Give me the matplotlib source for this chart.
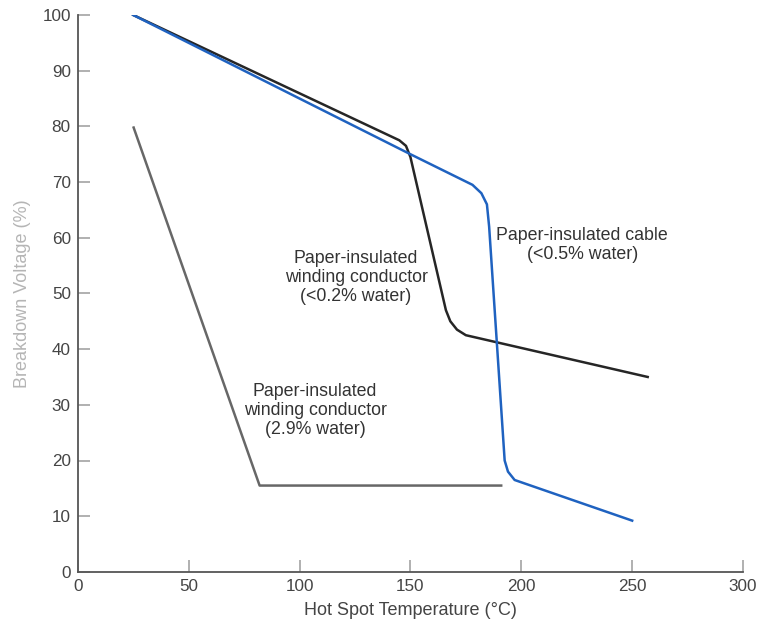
import matplotlib
matplotlib.use("Agg")
import matplotlib.pyplot as plt

# <0.2% water winding conductor
dry_x = [25, 145, 148, 150, 166, 168, 171, 175, 257]
dry_y = [100, 77.5, 76.5, 74.5, 47, 45, 43.5, 42.5, 35]
# <0.5% water cable
cable_x = [25, 150, 178, 182, 184.5, 185.5, 192.5, 194, 197, 250]
cable_y = [100, 75, 69.5, 68, 66, 62, 20, 18, 16.5, 9.2]
# 2.9% water winding conductor
wet_x = [25, 82, 191.5]
wet_y = [80, 15.5, 15.5]

XTICKS = [0, 50, 100, 150, 200, 250, 300]
YTICKS = [0, 10, 20, 30, 40, 50, 60, 70, 80, 90, 100]

plt.rcParams["font.family"] = ["Liberation Sans", "DejaVu Sans"]

fig = plt.figure(figsize=(7.7, 6.25), dpi=100)
ax = fig.add_axes([0.101, 0.085, 0.864, 0.891])

ax.plot(wet_x, wet_y, color="#676767", lw=1.8, solid_capstyle="butt")
ax.plot(dry_x, dry_y, color="#262626", lw=1.8)
ax.plot(cable_x, cable_y, color="#1f62c0", lw=1.8)

txt = dict(ha="center", va="center", fontsize=12.8, color="#333333", linespacing=1.15)
ax.text(125.5, 52.8, "Paper-insulated\nwinding conductor\n(<0.2% water)", **txt)
ax.text(227.5, 58.7, "Paper-insulated cable\n(<0.5% water)", **txt)
ax.text(107, 29, "Paper-insulated\nwinding conductor\n(2.9% water)", **txt)

ax.set_xlim(0, 300)
ax.set_ylim(0, 100)
ax.set_xticks(XTICKS)
ax.set_yticks(YTICKS)
ax.tick_params(direction="in", length=8.5, width=1.4, color="#b0b0b0",
               labelsize=12.3, labelcolor="#444444", pad=5)
for s in ("top", "right"):
    ax.spines[s].set_visible(False)
for s in ("left", "bottom"):
    ax.spines[s].set_color("#555555")
    ax.spines[s].set_linewidth(1.3)

ax.set_xlabel("Hot Spot Temperature (°C)", fontsize=13, color="#444444", labelpad=6)
ax.set_ylabel("Breakdown Voltage (%)", fontsize=13, color="#b5b5b5", labelpad=8)

fig.savefig("out.png", dpi=100)
